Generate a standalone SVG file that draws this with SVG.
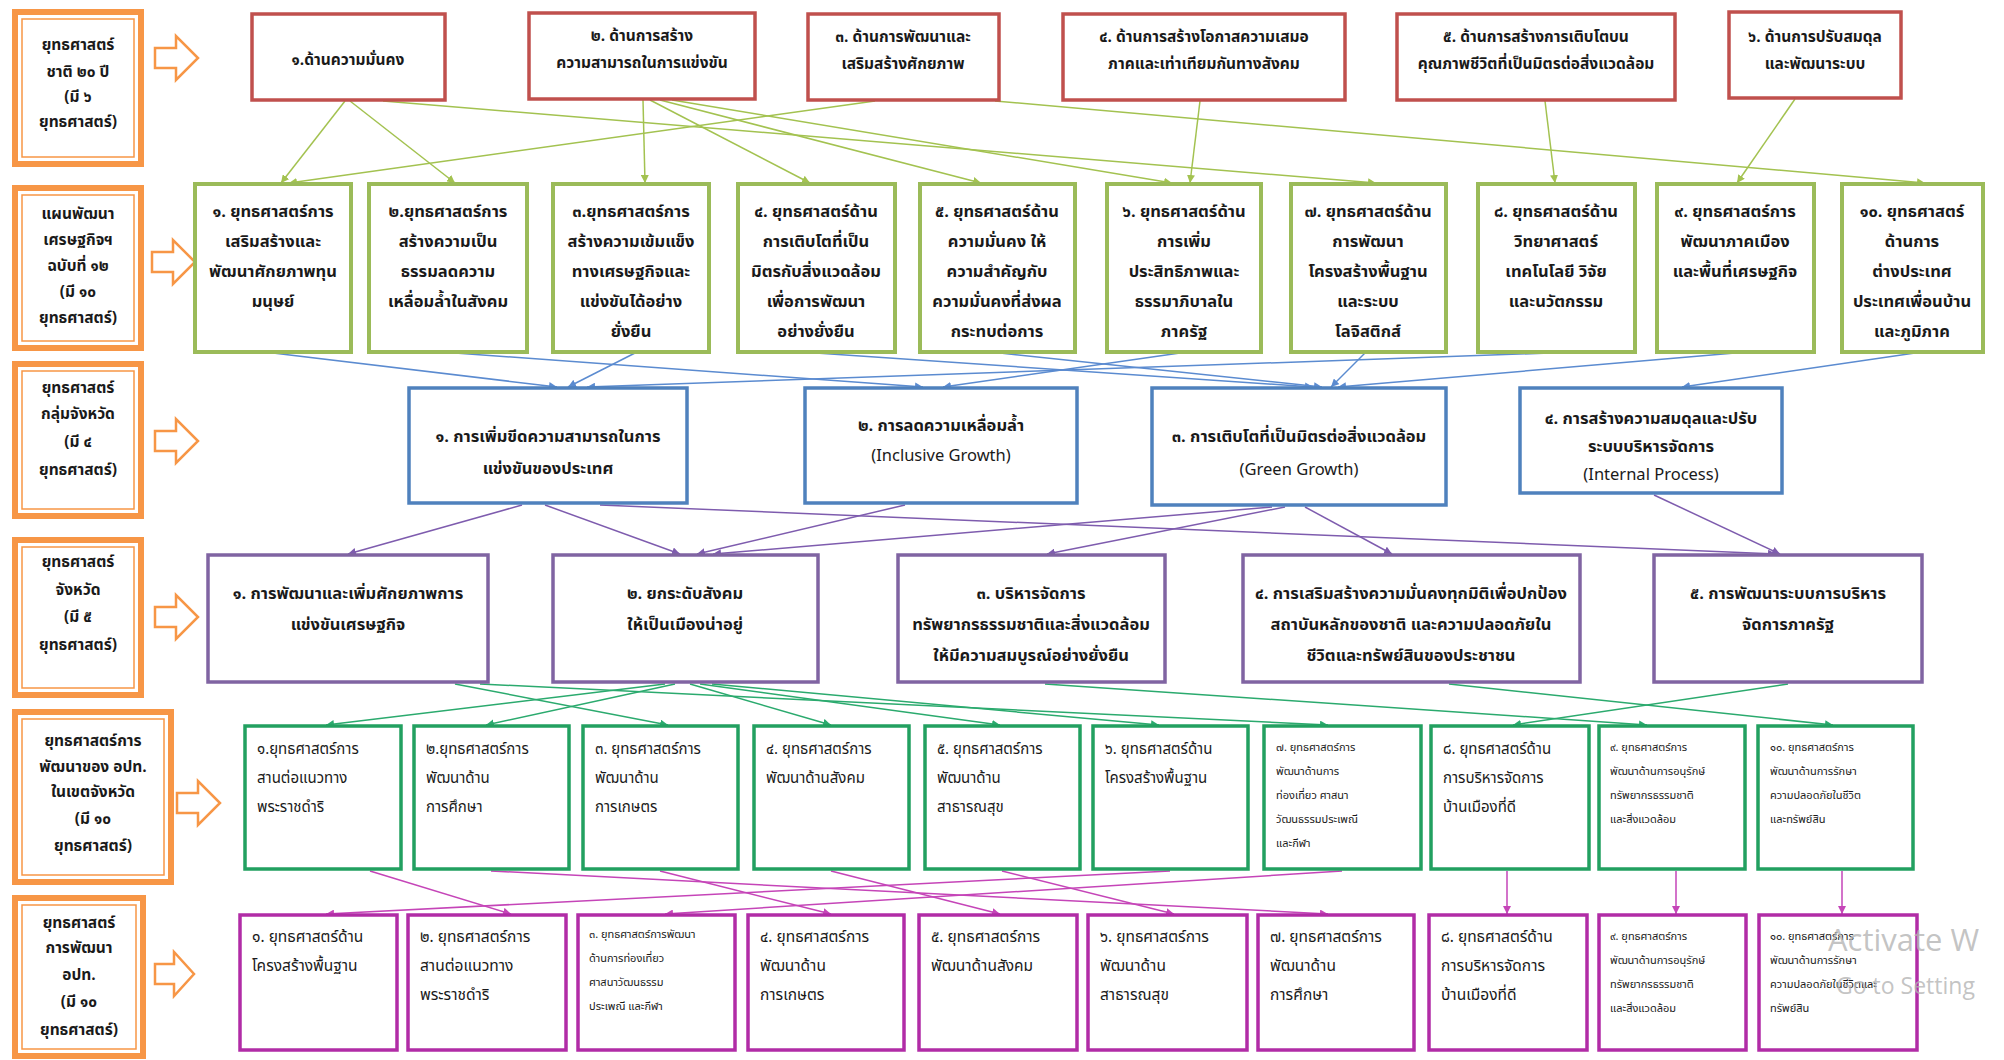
<svg xmlns="http://www.w3.org/2000/svg" width="2004" height="1060" viewBox="0 0 2004 1060">
<style>
text{font-family:"Noto Sans Thai","Noto Sans","DejaVu Sans",sans-serif;fill:#1a1a1a}
.lb{font-size:15.5px;font-weight:bold;text-anchor:middle}
.t{font-size:16.5px;font-weight:bold;text-anchor:middle}
.t1{font-size:15.5px;font-weight:bold;text-anchor:middle}
.s{font-size:15px}
.s6{font-size:15.5px}
.xs{font-size:11px}
.ob{fill:#fff;stroke:#F79646;stroke-width:6}
.obi{fill:none;stroke:#F79646;stroke-width:1.5}
.oa{fill:#fff;stroke:#F79646;stroke-width:2.5;stroke-linejoin:miter}
.r{fill:#fff;stroke:#C0504D;stroke-width:3.5}
.g{fill:#fff;stroke:#9BBB59;stroke-width:4}
.b{fill:#fff;stroke:#4F81BD;stroke-width:3.5}
.p{fill:#fff;stroke:#8064A2;stroke-width:3.5}
.tl{fill:#fff;stroke:#22A060;stroke-width:3.5}
.m{fill:#fff;stroke:#B12CA6;stroke-width:3.5}
.c1{stroke:#A3C250;stroke-width:1.5;fill:none;marker-end:url(#aO)}
.c2{stroke:#5B8BD0;stroke-width:1.5;fill:none;marker-end:url(#aB)}
.c3{stroke:#7E5CAE;stroke-width:1.5;fill:none;marker-end:url(#aP)}
.c4{stroke:#2BAA6E;stroke-width:1.5;fill:none;marker-end:url(#aT)}
.c5{stroke:#C545B8;stroke-width:1.5;fill:none;marker-end:url(#aM)}
.wm{font-family:"Open Sans","Noto Sans",sans-serif;fill:#b4b4b4;fill-opacity:0.8}
</style>
<defs>
<marker id="aO" viewBox="0 0 8 8" refX="8" refY="4" markerWidth="8" markerHeight="8" markerUnits="userSpaceOnUse" orient="auto"><path d="M0,0L8,4L0,8z" fill="#A3C250"/></marker>
<marker id="aB" viewBox="0 0 8 8" refX="8" refY="4" markerWidth="8" markerHeight="8" markerUnits="userSpaceOnUse" orient="auto"><path d="M0,0L8,4L0,8z" fill="#5B8BD0"/></marker>
<marker id="aP" viewBox="0 0 8 8" refX="8" refY="4" markerWidth="8" markerHeight="8" markerUnits="userSpaceOnUse" orient="auto"><path d="M0,0L8,4L0,8z" fill="#7E5CAE"/></marker>
<marker id="aT" viewBox="0 0 8 8" refX="8" refY="4" markerWidth="8" markerHeight="8" markerUnits="userSpaceOnUse" orient="auto"><path d="M0,0L8,4L0,8z" fill="#2BAA6E"/></marker>
<marker id="aM" viewBox="0 0 8 8" refX="8" refY="4" markerWidth="8" markerHeight="8" markerUnits="userSpaceOnUse" orient="auto"><path d="M0,0L8,4L0,8z" fill="#C545B8"/></marker>
</defs>
<rect width="2004" height="1060" fill="#fff"/>

<g id="connectors">
<!-- row1 -> row2 -->
<line class="c1" x1="345" y1="101" x2="281" y2="183"/>
<line class="c1" x1="350" y1="101" x2="455" y2="183"/>
<line class="c1" x1="383" y1="101" x2="1376" y2="183"/>
<line class="c1" x1="643" y1="100" x2="645" y2="183"/>
<line class="c1" x1="650" y1="100" x2="810" y2="183"/>
<line class="c1" x1="660" y1="100" x2="981" y2="183"/>
<line class="c1" x1="672" y1="100" x2="1172" y2="183"/>
<line class="c1" x1="875" y1="101" x2="289" y2="183"/>
<line class="c1" x1="995" y1="101" x2="1925" y2="183"/>
<line class="c1" x1="1200" y1="101" x2="1190" y2="183"/>
<line class="c1" x1="1545" y1="101" x2="1555" y2="183"/>
<line class="c1" x1="1795" y1="99" x2="1737" y2="183"/>
<!-- row2 -> row3 -->
<line class="c2" x1="273" y1="353" x2="557" y2="387"/>
<line class="c2" x1="635" y1="353" x2="568" y2="387"/>
<line class="c2" x1="1550" y1="353" x2="587" y2="387"/>
<line class="c2" x1="455" y1="353" x2="923" y2="387"/>
<line class="c2" x1="1180" y1="353" x2="943" y2="387"/>
<line class="c2" x1="816" y1="353" x2="1313" y2="387"/>
<line class="c2" x1="1000" y1="353" x2="1322" y2="387"/>
<line class="c2" x1="1365" y1="353" x2="1331" y2="387"/>
<line class="c2" x1="1735" y1="353" x2="1338" y2="387"/>
<line class="c2" x1="1915" y1="353" x2="1682" y2="387"/>
<!-- row3 -> row4 -->
<line class="c3" x1="522" y1="505" x2="348" y2="554"/>
<line class="c3" x1="545" y1="505" x2="680" y2="554"/>
<line class="c3" x1="600" y1="505" x2="1776" y2="554"/>
<line class="c3" x1="905" y1="505" x2="697" y2="554"/>
<line class="c3" x1="1272" y1="507" x2="713" y2="554"/>
<line class="c3" x1="1285" y1="507" x2="1047" y2="554"/>
<line class="c3" x1="1305" y1="507" x2="1392" y2="554"/>
<line class="c3" x1="1654" y1="495" x2="1780" y2="554"/>
<!-- row4 -> row5 -->
<line class="c4" x1="455" y1="684" x2="668" y2="725"/>
<line class="c4" x1="480" y1="684" x2="1328" y2="725"/>
<line class="c4" x1="665" y1="684" x2="326" y2="725"/>
<line class="c4" x1="675" y1="684" x2="486" y2="725"/>
<line class="c4" x1="690" y1="684" x2="831" y2="725"/>
<line class="c4" x1="700" y1="684" x2="1000" y2="725"/>
<line class="c4" x1="712" y1="684" x2="1159" y2="725"/>
<line class="c4" x1="1045" y1="684" x2="1647" y2="725"/>
<line class="c4" x1="1449" y1="684" x2="1833" y2="725"/>
<line class="c4" x1="1788" y1="684" x2="1513" y2="725"/>
<!-- row5 -> row6 -->
<line class="c5" x1="370" y1="871" x2="511" y2="914"/>
<line class="c5" x1="491" y1="871" x2="1328" y2="914"/>
<line class="c5" x1="660" y1="871" x2="831" y2="914"/>
<line class="c5" x1="831" y1="871" x2="1000" y2="914"/>
<line class="c5" x1="1002" y1="871" x2="1174" y2="914"/>
<line class="c5" x1="1170" y1="871" x2="326" y2="914"/>
<line class="c5" x1="1342" y1="871" x2="665" y2="914"/>
<line class="c5" x1="1507" y1="871" x2="1507" y2="914"/>
<line class="c5" x1="1676" y1="871" x2="1676" y2="914"/>
<line class="c5" x1="1842" y1="871" x2="1842" y2="914"/>
</g>

<!-- left labels -->
<g id="L1"><rect class="ob" x="15" y="12" width="126" height="152"/><rect class="obi" x="22" y="19" width="112" height="138"/>
<text class="lb" x="78" y="50">ยุทธศาสตร์</text><text class="lb" x="78" y="77">ชาติ ๒๐ ปี</text><text class="lb" x="78" y="102">(มี ๖</text><text class="lb" x="78" y="127">ยุทธศาสตร์)</text></g>
<path class="oa" d="M155,48 L176,48 L176,36 L198,58 L176,80 L176,68 L155,68 Z"/>
<g id="L2"><rect class="ob" x="15" y="188" width="126" height="160"/><rect class="obi" x="22" y="195" width="112" height="146"/>
<text class="lb" x="78" y="219">แผนพัฒนา</text><text class="lb" x="78" y="245">เศรษฐกิจฯ</text><text class="lb" x="78" y="271">ฉบับที่ ๑๒</text><text class="lb" x="78" y="297">(มี ๑๐</text><text class="lb" x="78" y="323">ยุทธศาสตร์)</text></g>
<path class="oa" d="M152,252 L173,252 L173,240 L195,262 L173,284 L173,272 L152,272 Z"/>
<g id="L3"><rect class="ob" x="15" y="364" width="126" height="152"/><rect class="obi" x="22" y="371" width="112" height="138"/>
<text class="lb" x="78" y="393">ยุทธศาสตร์</text><text class="lb" x="78" y="419">กลุ่มจังหวัด</text><text class="lb" x="78" y="447">(มี ๔</text><text class="lb" x="78" y="475">ยุทธศาสตร์)</text></g>
<path class="oa" d="M155,431 L176,431 L176,419 L198,441 L176,463 L176,451 L155,451 Z"/>
<g id="L4"><rect class="ob" x="15" y="540" width="126" height="155"/><rect class="obi" x="22" y="547" width="112" height="141"/>
<text class="lb" x="78" y="567">ยุทธศาสตร์</text><text class="lb" x="78" y="595">จังหวัด</text><text class="lb" x="78" y="622">(มี ๕</text><text class="lb" x="78" y="650">ยุทธศาสตร์)</text></g>
<path class="oa" d="M155,607 L176,607 L176,595 L198,617 L176,639 L176,627 L155,627 Z"/>
<g id="L5"><rect class="ob" x="15" y="712" width="156" height="170"/><rect class="obi" x="22" y="719" width="142" height="156"/>
<text class="lb" x="93" y="746">ยุทธศาสตร์การ</text><text class="lb" x="93" y="772">พัฒนาของ อปท.</text><text class="lb" x="93" y="797">ในเขตจังหวัด</text><text class="lb" x="93" y="824">(มี ๑๐</text><text class="lb" x="93" y="851">ยุทธศาสตร์)</text></g>
<path class="oa" d="M177,793 L198,793 L198,781 L220,803 L198,825 L198,813 L177,813 Z"/>
<g id="L6"><rect class="ob" x="15" y="898" width="128" height="158"/><rect class="obi" x="22" y="905" width="114" height="144"/>
<text class="lb" x="79" y="928">ยุทธศาสตร์</text><text class="lb" x="79" y="953">การพัฒนา</text><text class="lb" x="79" y="980">อปท.</text><text class="lb" x="79" y="1007">(มี ๑๐</text><text class="lb" x="79" y="1035">ยุทธศาสตร์)</text></g>
<path class="oa" d="M155,964 L174,964 L174,952 L194,974 L174,996 L174,984 L155,984 Z"/>

<!-- row 1 -->
<g id="N1-1"><rect class="r" x="252" y="14" width="193" height="86"/><text class="t1" x="348" y="65">๑.ด้านความมั่นคง</text></g>
<g id="N1-2"><rect class="r" x="529" y="13" width="226" height="86"/><text class="t1" x="642" y="41">๒. ด้านการสร้าง</text><text class="t1" x="642" y="68">ความสามารถในการแข่งขัน</text></g>
<g id="N1-3"><rect class="r" x="808" y="14" width="191" height="86"/><text class="t1" x="903" y="42">๓. ด้านการพัฒนาและ</text><text class="t1" x="903" y="69">เสริมสร้างศักยภาพ</text></g>
<g id="N1-4"><rect class="r" x="1063" y="14" width="282" height="86"/><text class="t1" x="1204" y="42">๔. ด้านการสร้างโอกาสความเสมอ</text><text class="t1" x="1204" y="69">ภาคและเท่าเทียมกันทางสังคม</text></g>
<g id="N1-5"><rect class="r" x="1397" y="14" width="278" height="86"/><text class="t1" x="1536" y="42">๕. ด้านการสร้างการเติบโตบน</text><text class="t1" x="1536" y="69">คุณภาพชีวิตที่เป็นมิตรต่อสิ่งแวดล้อม</text></g>
<g id="N1-6"><rect class="r" x="1729" y="12" width="172" height="86"/><text class="t1" x="1815" y="42">๖. ด้านการปรับสมดุล</text><text class="t1" x="1815" y="69">และพัฒนาระบบ</text></g>

<!-- row 2 -->
<g id="N2-1"><rect class="g" x="195" y="184" width="156" height="168"/><text class="t" x="273" y="217">๑. ยุทธศาสตร์การ</text><text class="t" x="273" y="247">เสริมสร้างและ</text><text class="t" x="273" y="277">พัฒนาศักยภาพทุน</text><text class="t" x="273" y="307">มนุษย์</text></g>
<g id="N2-2"><rect class="g" x="369" y="184" width="158" height="168"/><text class="t" x="448" y="217">๒.ยุทธศาสตร์การ</text><text class="t" x="448" y="247">สร้างความเป็น</text><text class="t" x="448" y="277">ธรรมลดความ</text><text class="t" x="448" y="307">เหลื่อมล้ำในสังคม</text></g>
<g id="N2-3"><rect class="g" x="553" y="184" width="156" height="168"/><text class="t" x="631" y="217">๓.ยุทธศาสตร์การ</text><text class="t" x="631" y="247">สร้างความเข้มแข็ง</text><text class="t" x="631" y="277">ทางเศรษฐกิจและ</text><text class="t" x="631" y="307">แข่งขันได้อย่าง</text><text class="t" x="631" y="337">ยั่งยืน</text></g>
<g id="N2-4"><rect class="g" x="738" y="184" width="157" height="168"/><text class="t" x="816" y="217">๔. ยุทธศาสตร์ด้าน</text><text class="t" x="816" y="247">การเติบโตที่เป็น</text><text class="t" x="816" y="277">มิตรกับสิ่งแวดล้อม</text><text class="t" x="816" y="307">เพื่อการพัฒนา</text><text class="t" x="816" y="337">อย่างยั่งยืน</text></g>
<g id="N2-5"><rect class="g" x="920" y="184" width="155" height="168"/><text class="t" x="997" y="217">๕. ยุทธศาสตร์ด้าน</text><text class="t" x="997" y="247">ความมั่นคง ให้</text><text class="t" x="997" y="277">ความสำคัญกับ</text><text class="t" x="997" y="307">ความมั่นคงที่ส่งผล</text><text class="t" x="997" y="337">กระทบต่อการ</text></g>
<g id="N2-6"><rect class="g" x="1107" y="184" width="154" height="168"/><text class="t" x="1184" y="217">๖. ยุทธศาสตร์ด้าน</text><text class="t" x="1184" y="247">การเพิ่ม</text><text class="t" x="1184" y="277">ประสิทธิภาพและ</text><text class="t" x="1184" y="307">ธรรมาภิบาลใน</text><text class="t" x="1184" y="337">ภาครัฐ</text></g>
<g id="N2-7"><rect class="g" x="1291" y="184" width="155" height="168"/><text class="t" x="1368" y="217">๗. ยุทธศาสตร์ด้าน</text><text class="t" x="1368" y="247">การพัฒนา</text><text class="t" x="1368" y="277">โครงสร้างพื้นฐาน</text><text class="t" x="1368" y="307">และระบบ</text><text class="t" x="1368" y="337">โลจิสติกส์</text></g>
<g id="N2-8"><rect class="g" x="1478" y="184" width="157" height="168"/><text class="t" x="1556" y="217">๘. ยุทธศาสตร์ด้าน</text><text class="t" x="1556" y="247">วิทยาศาสตร์</text><text class="t" x="1556" y="277">เทคโนโลยี วิจัย</text><text class="t" x="1556" y="307">และนวัตกรรม</text></g>
<g id="N2-9"><rect class="g" x="1657" y="184" width="157" height="168"/><text class="t" x="1735" y="217">๙. ยุทธศาสตร์การ</text><text class="t" x="1735" y="247">พัฒนาภาคเมือง</text><text class="t" x="1735" y="277">และพื้นที่เศรษฐกิจ</text></g>
<g id="N2-10"><rect class="g" x="1842" y="184" width="141" height="168"/><text class="t" x="1912" y="217">๑๐. ยุทธศาสตร์</text><text class="t" x="1912" y="247">ด้านการ</text><text class="t" x="1912" y="277">ต่างประเทศ</text><text class="t" x="1912" y="307">ประเทศเพื่อนบ้าน</text><text class="t" x="1912" y="337">และภูมิภาค</text></g>

<!-- row 3 -->
<g id="N3-1"><rect class="b" x="409" y="388" width="278" height="115"/><text class="t" x="548" y="442">๑. การเพิ่มขีดความสามารถในการ</text><text class="t" x="548" y="474">แข่งขันของประเทศ</text></g>
<g id="N3-2"><rect class="b" x="805" y="388" width="272" height="115"/><text class="t" x="941" y="431">๒. การลดความเหลื่อมล้ำ</text><text class="t" x="941" y="461" style="font-weight:normal">(Inclusive Growth)</text></g>
<g id="N3-3"><rect class="b" x="1152" y="388" width="294" height="117"/><text class="t" x="1299" y="442">๓. การเติบโตที่เป็นมิตรต่อสิ่งแวดล้อม</text><text class="t" x="1299" y="475" style="font-weight:normal">(Green Growth)</text></g>
<g id="N3-4"><rect class="b" x="1520" y="388" width="262" height="105"/><text class="t" x="1651" y="424">๔. การสร้างความสมดุลและปรับ</text><text class="t" x="1651" y="452">ระบบบริหารจัดการ</text><text class="t" x="1651" y="480" style="font-weight:normal">(Internal Process)</text></g>

<!-- row 4 -->
<g id="N4-1"><rect class="p" x="208" y="555" width="280" height="127"/><text class="t" x="348" y="599">๑. การพัฒนาและเพิ่มศักยภาพการ</text><text class="t" x="348" y="630">แข่งขันเศรษฐกิจ</text></g>
<g id="N4-2"><rect class="p" x="553" y="555" width="265" height="127"/><text class="t" x="685" y="599">๒. ยกระดับสังคม</text><text class="t" x="685" y="630">ให้เป็นเมืองน่าอยู่</text></g>
<g id="N4-3"><rect class="p" x="898" y="555" width="267" height="127"/><text class="t" x="1031" y="599">๓. บริหารจัดการ</text><text class="t" x="1031" y="630">ทรัพยากรธรรมชาติและสิ่งแวดล้อม</text><text class="t" x="1031" y="661">ให้มีความสมบูรณ์อย่างยั่งยืน</text></g>
<g id="N4-4"><rect class="p" x="1243" y="555" width="337" height="127"/><text class="t" x="1411" y="599">๔. การเสริมสร้างความมั่นคงทุกมิติเพื่อปกป้อง</text><text class="t" x="1411" y="630">สถาบันหลักของชาติ และความปลอดภัยใน</text><text class="t" x="1411" y="661">ชีวิตและทรัพย์สินของประชาชน</text></g>
<g id="N4-5"><rect class="p" x="1654" y="555" width="268" height="127"/><text class="t" x="1788" y="599">๕. การพัฒนาระบบการบริหาร</text><text class="t" x="1788" y="630">จัดการภาครัฐ</text></g>

<!-- row 5 -->
<g id="N5-1"><rect class="tl" x="245" y="726" width="156" height="143"/><text class="s" x="257" y="754">๑.ยุทธศาสตร์การ</text><text class="s" x="257" y="783">สานต่อแนวทาง</text><text class="s" x="257" y="812">พระราชดำริ</text></g>
<g id="N5-2"><rect class="tl" x="414" y="726" width="155" height="143"/><text class="s" x="426" y="754">๒.ยุทธศาสตร์การ</text><text class="s" x="426" y="783">พัฒนาด้าน</text><text class="s" x="426" y="812">การศึกษา</text></g>
<g id="N5-3"><rect class="tl" x="583" y="726" width="155" height="143"/><text class="s" x="595" y="754">๓. ยุทธศาสตร์การ</text><text class="s" x="595" y="783">พัฒนาด้าน</text><text class="s" x="595" y="812">การเกษตร</text></g>
<g id="N5-4"><rect class="tl" x="754" y="726" width="155" height="143"/><text class="s" x="766" y="754">๔. ยุทธศาสตร์การ</text><text class="s" x="766" y="783">พัฒนาด้านสังคม</text></g>
<g id="N5-5"><rect class="tl" x="925" y="726" width="155" height="143"/><text class="s" x="937" y="754">๕. ยุทธศาสตร์การ</text><text class="s" x="937" y="783">พัฒนาด้าน</text><text class="s" x="937" y="812">สาธารณสุข</text></g>
<g id="N5-6"><rect class="tl" x="1093" y="726" width="155" height="143"/><text class="s" x="1105" y="754">๖. ยุทธศาสตร์ด้าน</text><text class="s" x="1105" y="783">โครงสร้างพื้นฐาน</text></g>
<g id="N5-7"><rect class="tl" x="1264" y="726" width="157" height="143"/><text class="xs" x="1276" y="751">๗. ยุทธศาสตร์การ</text><text class="xs" x="1276" y="775">พัฒนาด้านการ</text><text class="xs" x="1276" y="799">ท่องเที่ยว ศาสนา</text><text class="xs" x="1276" y="823">วัฒนธรรมประเพณี</text><text class="xs" x="1276" y="847">และกีฬา</text></g>
<g id="N5-8"><rect class="tl" x="1431" y="726" width="158" height="143"/><text class="s" x="1443" y="754">๘. ยุทธศาสตร์ด้าน</text><text class="s" x="1443" y="783">การบริหารจัดการ</text><text class="s" x="1443" y="812">บ้านเมืองที่ดี</text></g>
<g id="N5-9"><rect class="tl" x="1599" y="726" width="146" height="143"/><text class="xs" x="1610" y="751">๙. ยุทธศาสตร์การ</text><text class="xs" x="1610" y="775">พัฒนาด้านการอนุรักษ์</text><text class="xs" x="1610" y="799">ทรัพยากรธรรมชาติ</text><text class="xs" x="1610" y="823">และสิ่งแวดล้อม</text></g>
<g id="N5-10"><rect class="tl" x="1758" y="726" width="155" height="143"/><text class="xs" x="1770" y="751">๑๐. ยุทธศาสตร์การ</text><text class="xs" x="1770" y="775">พัฒนาด้านการรักษา</text><text class="xs" x="1770" y="799">ความปลอดภัยในชีวิต</text><text class="xs" x="1770" y="823">และทรัพย์สิน</text></g>

<!-- row 6 -->
<g id="N6-1"><rect class="m" x="240" y="915" width="157" height="135"/><text class="s6" x="252" y="942">๑. ยุทธศาสตร์ด้าน</text><text class="s6" x="252" y="971">โครงสร้างพื้นฐาน</text></g>
<g id="N6-2"><rect class="m" x="408" y="915" width="158" height="135"/><text class="s6" x="420" y="942">๒. ยุทธศาสตร์การ</text><text class="s6" x="420" y="971">สานต่อแนวทาง</text><text class="s6" x="420" y="1000">พระราชดำริ</text></g>
<g id="N6-3"><rect class="m" x="578" y="915" width="157" height="135"/><text class="xs" x="589" y="938">๓. ยุทธศาสตร์การพัฒนา</text><text class="xs" x="589" y="962">ด้านการท่องเที่ยว</text><text class="xs" x="589" y="986">ศาสนาวัฒนธรรม</text><text class="xs" x="589" y="1010">ประเพณี และกีฬา</text></g>
<g id="N6-4"><rect class="m" x="748" y="915" width="156" height="135"/><text class="s6" x="760" y="942">๔. ยุทธศาสตร์การ</text><text class="s6" x="760" y="971">พัฒนาด้าน</text><text class="s6" x="760" y="1000">การเกษตร</text></g>
<g id="N6-5"><rect class="m" x="919" y="915" width="158" height="135"/><text class="s6" x="931" y="942">๕. ยุทธศาสตร์การ</text><text class="s6" x="931" y="971">พัฒนาด้านสังคม</text></g>
<g id="N6-6"><rect class="m" x="1088" y="915" width="159" height="135"/><text class="s6" x="1100" y="942">๖. ยุทธศาสตร์การ</text><text class="s6" x="1100" y="971">พัฒนาด้าน</text><text class="s6" x="1100" y="1000">สาธารณสุข</text></g>
<g id="N6-7"><rect class="m" x="1258" y="915" width="156" height="135"/><text class="s6" x="1270" y="942">๗. ยุทธศาสตร์การ</text><text class="s6" x="1270" y="971">พัฒนาด้าน</text><text class="s6" x="1270" y="1000">การศึกษา</text></g>
<g id="N6-8"><rect class="m" x="1429" y="915" width="158" height="135"/><text class="s6" x="1441" y="942">๘. ยุทธศาสตร์ด้าน</text><text class="s6" x="1441" y="971">การบริหารจัดการ</text><text class="s6" x="1441" y="1000">บ้านเมืองที่ดี</text></g>
<g id="N6-9"><rect class="m" x="1599" y="915" width="147" height="135"/><text class="xs" x="1610" y="940">๙. ยุทธศาสตร์การ</text><text class="xs" x="1610" y="964">พัฒนาด้านการอนุรักษ์</text><text class="xs" x="1610" y="988">ทรัพยากรธรรมชาติ</text><text class="xs" x="1610" y="1012">และสิ่งแวดล้อม</text></g>
<g id="N6-10"><rect class="m" x="1759" y="915" width="158" height="135"/><text class="xs" x="1770" y="940">๑๐. ยุทธศาสตร์การ</text><text class="xs" x="1770" y="964">พัฒนาด้านการรักษา</text><text class="xs" x="1770" y="988">ความปลอดภัยในชีวิตและ</text><text class="xs" x="1770" y="1012">ทรัพย์สิน</text></g>

<text class="wm" x="1828" y="951" font-size="31">Activate W</text>
<text class="wm" x="1836" y="994" font-size="23">Go to Setting</text>
</svg>
